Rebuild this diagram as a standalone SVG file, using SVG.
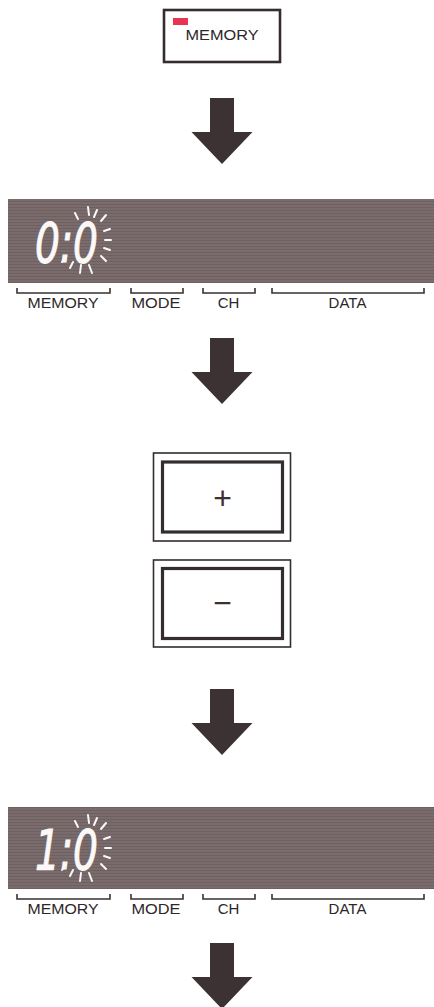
<svg xmlns="http://www.w3.org/2000/svg" xmlns:xlink="http://www.w3.org/1999/xlink" width="434" height="1007" viewBox="0 0 434 1007">
<style>
.frame{fill:#fff;stroke:#352c2d}
.lcd{fill:url(#stripes)}
.br{fill:none;stroke:#3a3132;stroke-width:1.6}
.lbl{font-family:"Liberation Sans",Arial,sans-serif;font-size:15px;fill:#2e2728;text-anchor:middle}
.dig{font-family:"DejaVu Sans",sans-serif;font-weight:200;font-style:italic;font-size:56px;fill:#fbf8f8;stroke:#fbf8f8;stroke-width:1.1}
.ray{stroke:#fbf8f8;stroke-width:2;stroke-linecap:round}
.arrow{fill:#3d3233}
.sym{font-family:"Liberation Sans",Arial,sans-serif;font-size:32px;fill:#3a3132;text-anchor:middle}
</style>
<defs>
<pattern id="stripes" width="4" height="3" patternUnits="userSpaceOnUse">
<rect width="4" height="3" fill="#7a6b6c"/>
<rect width="4" height="1" fill="#6e6061"/>
</pattern>
<g id="rays">
<line class="ray" x1="75" y1="213" x2="78" y2="219"/>
<line class="ray" x1="88" y1="207" x2="89" y2="215"/>
<line class="ray" x1="97" y1="210" x2="94" y2="217"/>
<line class="ray" x1="106" y1="215" x2="101" y2="221"/>
<line class="ray" x1="110" y1="229" x2="104" y2="231"/>
<line class="ray" x1="111" y1="240" x2="105" y2="240"/>
<line class="ray" x1="110" y1="250" x2="104" y2="248"/>
<line class="ray" x1="106" y1="261" x2="101" y2="256"/>
<line class="ray" x1="92" y1="273" x2="89" y2="265"/>
<line class="ray" x1="80" y1="273" x2="81" y2="265"/>
<line class="ray" x1="70" y1="268" x2="73" y2="262"/>
<line class="ray" x1="62" y1="262" x2="66" y2="257"/>
</g>
<g id="brackets">
<path class="br" d="M17,288 V293 H110 V288"/>
<path class="br" d="M131,288 V293 H183 V288"/>
<path class="br" d="M203,288 V293 H255 V288"/>
<path class="br" d="M272,288 V293 H424 V288"/>
</g>
<path id="arr" d="M-12,0 H12 V34 H30.5 L0,66 L-30.5,34 H-12 Z"/>
</defs>

<g id="memory-button">
<rect class="frame" x="164" y="10" width="116" height="52" stroke-width="2.6"/>
<rect x="173" y="18" width="15" height="7" fill="#e8344f"/>
<text class="lbl" x="222" y="40" font-size="14" textLength="73" lengthAdjust="spacingAndGlyphs">MEMORY</text>
</g>

<g id="display-1">
<rect class="lcd" x="8" y="199" width="426" height="84"/>
<text class="dig" x="35" y="262" textLength="63" lengthAdjust="spacingAndGlyphs">0:0</text>
<use xlink:href="#rays"/>
<use xlink:href="#brackets"/>
<text class="lbl" x="63" y="308" textLength="71" lengthAdjust="spacingAndGlyphs">MEMORY</text>
<text class="lbl" x="156" y="308" textLength="49" lengthAdjust="spacingAndGlyphs">MODE</text>
<text class="lbl" x="228.5" y="308">CH</text>
<text class="lbl" x="347.5" y="308">DATA</text>
</g>

<g id="plus-button">
<rect class="frame" x="153.5" y="453" width="137" height="88" stroke-width="1.6"/>
<rect class="frame" x="162.5" y="462" width="120" height="70" stroke-width="3.2"/>
<text class="sym" x="222.5" y="509">+</text>
</g>

<g id="minus-button">
<rect class="frame" x="153.5" y="560" width="137" height="87" stroke-width="1.6"/>
<rect class="frame" x="162.5" y="568.5" width="120" height="70" stroke-width="3.2"/>
<text class="sym" x="222.5" y="614">−</text>
</g>

<g id="display-2">
<rect class="lcd" x="8" y="807" width="426" height="82"/>
<text class="dig" x="35" y="869" textLength="63" lengthAdjust="spacingAndGlyphs">1:0</text>
<use xlink:href="#rays" transform="translate(0,608)"/>
<use xlink:href="#brackets" transform="translate(0,606)"/>
<text class="lbl" x="63" y="914" textLength="71" lengthAdjust="spacingAndGlyphs">MEMORY</text>
<text class="lbl" x="156" y="914" textLength="49" lengthAdjust="spacingAndGlyphs">MODE</text>
<text class="lbl" x="228.5" y="914">CH</text>
<text class="lbl" x="347.5" y="914">DATA</text>
</g>

<g id="connectors">
<use class="arrow" xlink:href="#arr" transform="translate(222,98)"/>
<use class="arrow" xlink:href="#arr" transform="translate(222,338)"/>
<use class="arrow" xlink:href="#arr" transform="translate(222,689)"/>
<use class="arrow" xlink:href="#arr" transform="translate(222,943)"/>
</g>
</svg>
